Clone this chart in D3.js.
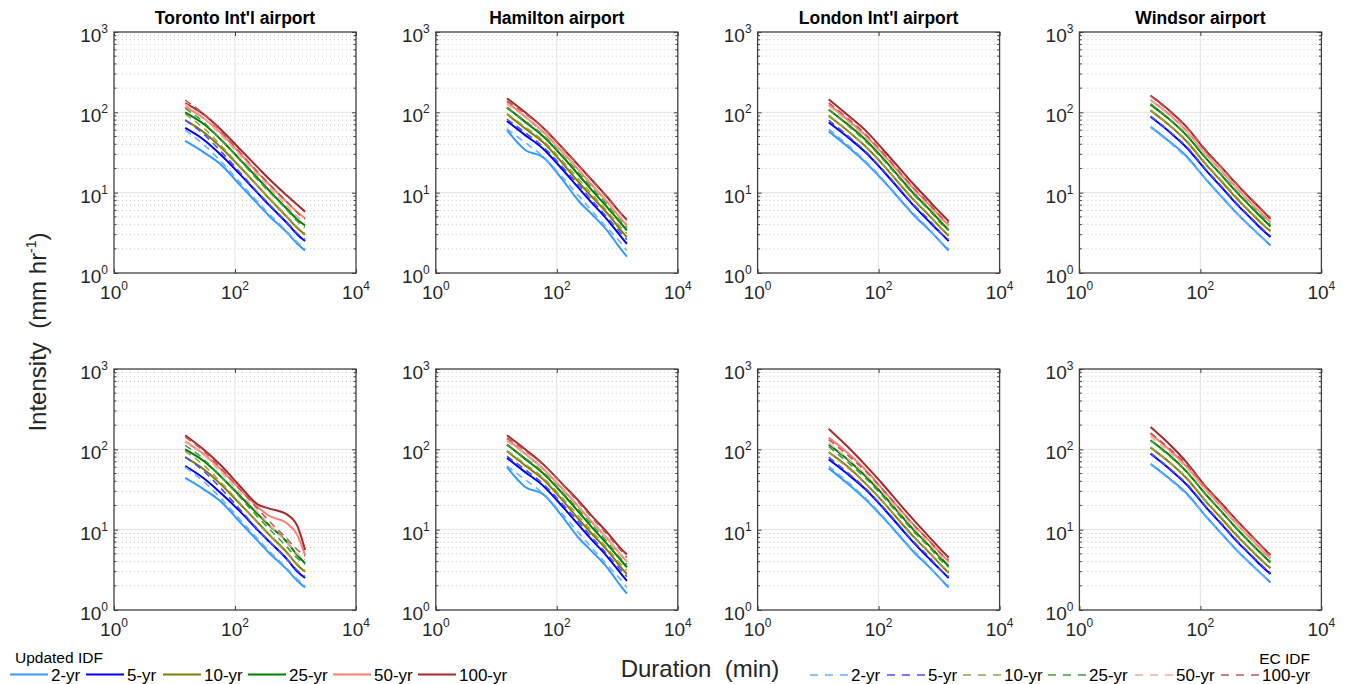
<!DOCTYPE html>
<html>
<head>
<meta charset="utf-8">
<script src="https://cdn.jsdelivr.net/npm/d3@7"></script>
<style>
body { margin: 0; background: #fff; }
svg { display: block; font-family: "Liberation Sans", Arial, Helvetica, sans-serif; }
text { white-space: pre; }
</style>
</head>
<body>
<svg id="chart" width="1355" height="684"></svg>
<script>
// durations (min) shared by every curve
var durations = [15, 30, 60, 120, 240, 360, 720, 1080, 1440];
var periods = ["2-yr", "5-yr", "10-yr", "25-yr", "50-yr", "100-yr"];
var stations = ["Toronto Int'l airport", "Hamilton airport", "London Int'l airport", "Windsor airport"];
var xTicks = [1, 100, 10000];
var yTicks = [1, 10, 100, 1000];

// EC IDF curves (dashed), one row per return period, same in both rows of panels
var ecToronto = [
  [60, 40, 24, 13.5, 7.6, 5.5, 3.3, 2.4, 2.0],
  [80, 54, 32, 18, 10, 7.3, 4.3, 3.1, 2.6],
  [95, 64, 38, 21.5, 12, 8.7, 5.1, 3.7, 3.1],
  [112, 76, 45, 25.5, 14.3, 10.4, 6.1, 4.4, 3.7],
  [127, 86, 51, 29, 16.3, 11.8, 6.9, 5.0, 4.2],
  [142, 96, 57, 32, 18, 13, 7.7, 5.6, 4.7]
];
var ecHamilton = [
  [62, 42, 28, 16, 8.8, 6.2, 3.5, 2.5, 1.9],
  [82, 56, 37, 21.5, 12, 8.4, 4.7, 3.3, 2.6],
  [96, 66, 44, 25.5, 14.2, 10, 5.6, 3.9, 3.1],
  [113, 78, 52, 30, 17, 12, 6.7, 4.6, 3.7],
  [126, 87, 58, 34, 19, 13.4, 7.5, 5.2, 4.1],
  [139, 96, 64, 37.5, 21, 14.8, 8.3, 5.8, 4.5]
];
var ecLondon = [
  [62, 40, 25, 14.5, 8, 5.7, 3.4, 2.4, 2.0],
  [80, 52, 33, 19, 10.5, 7.4, 4.4, 3.1, 2.6],
  [92, 60, 38, 22, 12.2, 8.6, 5.1, 3.6, 3.0],
  [108, 70, 44, 25.5, 14, 9.9, 5.8, 4.1, 3.4],
  [120, 78, 49, 28.5, 15.5, 11, 6.4, 4.6, 3.8],
  [132, 86, 54, 31, 17, 12, 7.0, 5.0, 4.2]
];
var ecWindsor = [
  [65, 43, 27, 15, 8.5, 6.1, 3.6, 2.7, 2.2],
  [90, 59, 37, 20, 11.3, 8, 4.7, 3.5, 2.9],
  [107, 70, 44, 23.5, 13.3, 9.5, 5.5, 4.1, 3.4],
  [128, 84, 52, 28, 15.8, 11.3, 6.6, 4.9, 4.0],
  [144, 94, 58, 31.5, 17.8, 12.7, 7.4, 5.5, 4.5],
  [160, 104, 64, 35, 19.6, 14, 8.2, 6.0, 4.9]
];

// Updated IDF curves (solid), top row
var updTorontoTop = [
  [44, 32, 22, 12.5, 7.2, 5.2, 3.2, 2.3, 1.9],
  [64, 46, 29, 17, 9.8, 7.1, 4.2, 3.0, 2.5],
  [80, 57, 36, 21, 12, 8.6, 5.0, 3.6, 3.0],
  [100, 72, 45, 26, 15, 10.8, 6.3, 4.6, 3.9],
  [118, 85, 54, 31, 17.5, 12.8, 7.6, 5.7, 4.8],
  [130, 95, 60, 35, 20.5, 15, 9.2, 7.0, 5.8]
];
var updHamiltonTop = [
  [60, 34, 27.5, 15, 7.6, 5.6, 3.2, 2.1, 1.6],
  [78, 52, 35, 20, 11, 7.8, 4.4, 3.0, 2.3],
  [95, 63, 42, 24, 13, 9.3, 5.3, 3.6, 2.8],
  [115, 76, 50, 29, 16, 11.2, 6.3, 4.4, 3.4],
  [135, 88, 57, 33, 18.5, 13, 7.3, 5.0, 3.9],
  [150, 100, 64, 37, 21, 15, 8.4, 5.8, 4.6]
];
var updLondonTop = [
  [58, 38, 24, 14, 7.8, 5.5, 3.3, 2.4, 1.9],
  [75, 50, 32, 18.5, 10.2, 7.2, 4.2, 3.1, 2.5],
  [90, 60, 38, 22, 12, 8.5, 5.0, 3.6, 2.9],
  [108, 72, 46, 26.5, 14.5, 10.2, 6.0, 4.3, 3.4],
  [125, 82, 52, 30, 16.5, 11.7, 6.8, 4.9, 3.9],
  [145, 94, 60, 34, 18.8, 13.3, 7.6, 5.5, 4.4]
];
var updWindsorTop = [
  [66, 44, 28, 15, 8.4, 6, 3.6, 2.7, 2.2],
  [88, 58, 36, 19.5, 11, 7.8, 4.6, 3.4, 2.8],
  [105, 70, 43, 23, 13, 9.2, 5.4, 4.0, 3.3],
  [125, 83, 51, 27.5, 15.5, 11, 6.4, 4.7, 3.8],
  [143, 95, 58, 31, 17.5, 12.4, 7.2, 5.3, 4.3],
  [162, 107, 65, 34, 19.5, 13.8, 8.0, 5.9, 4.7]
];

// Updated IDF curves (solid), bottom row
var updTorontoBottom = [
  [44, 32, 22, 12.5, 7.2, 5.2, 3.2, 2.3, 1.9],
  [62, 44, 28, 17, 9.8, 7.2, 4.3, 3.0, 2.5],
  [80, 57, 36, 21, 12.2, 8.8, 5.2, 3.6, 3.0],
  [100, 72, 45, 26.5, 15.5, 11.5, 7.0, 4.8, 3.8],
  [125, 88, 55, 32, 19, 15, 12, 8.5, 4.8],
  [150, 100, 62, 35, 20.5, 18.4, 15.5, 11, 5.6]
];
var updHamiltonBottom = [
  [60, 34, 27.5, 15, 7.6, 5.6, 3.2, 2.1, 1.6],
  [78, 52, 35, 20, 11, 7.8, 4.4, 3.0, 2.3],
  [95, 63, 42, 24, 13, 9.3, 5.3, 3.6, 2.8],
  [115, 76, 50, 29, 16, 11.2, 6.3, 4.4, 3.4],
  [135, 88, 57, 33, 18.5, 13, 7.4, 5.1, 4.0],
  [150, 100, 65, 38, 22, 15.5, 8.8, 6.1, 4.9]
];
var updLondonBottom = [
  [58, 38, 24, 14, 7.8, 5.5, 3.3, 2.4, 1.9],
  [75, 50, 32, 18.5, 10.2, 7.2, 4.2, 3.1, 2.5],
  [92, 62, 38, 22, 12, 8.5, 5.0, 3.6, 2.9],
  [115, 76, 47, 27, 14.8, 10.4, 6.1, 4.4, 3.5],
  [140, 92, 56, 31, 17, 12, 7.0, 5.0, 4.0],
  [180, 110, 64, 36, 19.5, 13.8, 7.8, 5.6, 4.5]
];
var updWindsorBottom = [
  [66, 44, 28, 15, 8.4, 6, 3.6, 2.7, 2.2],
  [88, 58, 36, 19.5, 11, 7.8, 4.6, 3.4, 2.8],
  [105, 70, 43, 23, 13, 9.2, 5.4, 4.0, 3.3],
  [130, 86, 52, 28, 15.8, 11.2, 6.5, 4.8, 3.9],
  [155, 100, 60, 32, 18, 12.8, 7.4, 5.4, 4.4],
  [190, 118, 68, 35, 20, 14.2, 8.2, 6.0, 4.8]
];

var updColors = ["#3399ff", "#0000ff", "#808000", "#008000", "#fa8072", "#a52a2a"];
var ecColors = ["#66b3ff", "#4d4dff", "#a0a040", "#40a040", "#f8a89e", "#c05a5a"];

var panels = [
  { title: stations[0], row: 0, col: 0, upd: updTorontoTop, ec: ecToronto },
  { title: stations[1], row: 0, col: 1, upd: updHamiltonTop, ec: ecHamilton },
  { title: stations[2], row: 0, col: 2, upd: updLondonTop, ec: ecLondon },
  { title: stations[3], row: 0, col: 3, upd: updWindsorTop, ec: ecWindsor },
  { title: null, row: 1, col: 0, upd: updTorontoBottom, ec: ecToronto },
  { title: null, row: 1, col: 1, upd: updHamiltonBottom, ec: ecHamilton },
  { title: null, row: 1, col: 2, upd: updLondonBottom, ec: ecLondon },
  { title: null, row: 1, col: 3, upd: updWindsorBottom, ec: ecWindsor }
];

var svg = d3.select("#chart");
var lefts = [114, 435.8, 757.6, 1079.4];
var tops = [32, 369];
var pw = 242, ph = 241;

var x = d3.scaleLog().domain([1, 10000]).range([0, pw]);
var y = d3.scaleLog().domain([1, 1000]).range([ph, 0]);

var minorY = [];
[1, 10, 100].forEach(function (b) {
  for (var k = 2; k <= 9; k++) { minorY.push(b * k); }
});

var line = d3.line()
  .x(function (d) { return x(d[0]); })
  .y(function (d) { return y(d[1]); })
  .curve(d3.curveMonotoneX);

var supLabel = function (sel, exp) {
  sel.append("tspan").text("10");
  sel.append("tspan").attr("font-size", 12).attr("dy", -9).text(exp);
};

panels.forEach(function (p) {
  var g = svg.append("g")
    .attr("transform", "translate(" + lefts[p.col] + "," + tops[p.row] + ")");

  // minor grid (dotted)
  g.selectAll(".mgrid")
    .data(minorY)
    .enter()
    .append("line")
    .attr("x1", 0).attr("x2", pw)
    .attr("y1", function (d) { return y(d); })
    .attr("y2", function (d) { return y(d); })
    .attr("stroke", "#c8c8c8")
    .attr("stroke-width", 1)
    .attr("stroke-dasharray", "1,3");

  // major grid
  g.selectAll(".hgrid")
    .data([10, 100])
    .enter()
    .append("line")
    .attr("x1", 0).attr("x2", pw)
    .attr("y1", function (d) { return y(d); })
    .attr("y2", function (d) { return y(d); })
    .attr("stroke", "#e3e3e3")
    .attr("stroke-width", 1);
  g.append("line")
    .attr("x1", x(100)).attr("x2", x(100))
    .attr("y1", 0).attr("y2", ph)
    .attr("stroke", "#e3e3e3")
    .attr("stroke-width", 1);

  // curves: updated solid, EC dashed
  p.upd.forEach(function (vals, i) {
    var pts = durations.map(function (d, j) { return [d, vals[j]]; });
    g.append("path")
      .attr("d", line(pts))
      .attr("fill", "none")
      .attr("stroke", updColors[i])
      .attr("stroke-width", 2);
  });
  p.ec.forEach(function (vals, i) {
    var pts = durations.map(function (d, j) { return [d, vals[j]]; });
    g.append("path")
      .attr("d", line(pts))
      .attr("fill", "none")
      .attr("stroke", ecColors[i])
      .attr("stroke-width", 1.6)
      .attr("stroke-dasharray", "7,5");
  });

  // minor ticks on y edges
  g.selectAll(".mtickL")
    .data(minorY)
    .enter()
    .append("line")
    .attr("x1", 0).attr("x2", 2.5)
    .attr("y1", function (d) { return y(d); })
    .attr("y2", function (d) { return y(d); })
    .attr("stroke", "#404040");
  g.selectAll(".mtickR")
    .data(minorY)
    .enter()
    .append("line")
    .attr("x1", pw - 2.5).attr("x2", pw)
    .attr("y1", function (d) { return y(d); })
    .attr("y2", function (d) { return y(d); })
    .attr("stroke", "#404040");

  // axes
  var yAxis = d3.axisLeft(y).tickValues(yTicks).tickSize(-4).tickFormat("");
  var xAxis = d3.axisBottom(x).tickValues(xTicks).tickSize(-4).tickFormat("");
  g.append("g").call(yAxis);
  g.append("g").attr("transform", "translate(0," + ph + ")").call(xAxis);
  g.append("g").call(d3.axisRight(y).tickValues(yTicks).tickSize(-4).tickFormat(""))
    .attr("transform", "translate(" + pw + ",0)");
  g.append("g").call(d3.axisTop(x).tickValues(xTicks).tickSize(-4).tickFormat(""));
  g.selectAll(".domain").remove();
  g.selectAll(".tick line").attr("stroke", "#404040");

  g.append("rect")
    .attr("width", pw).attr("height", ph)
    .attr("fill", "none")
    .attr("stroke", "#404040")
    .attr("stroke-width", 1.3);

  // tick labels
  yTicks.forEach(function (v) {
    g.append("text")
      .attr("x", -6)
      .attr("y", y(v) + 10)
      .attr("text-anchor", "end")
      .attr("font-size", 19)
      .attr("fill", "#262626")
      .call(supLabel, Math.round(Math.log10(v)));
  });
  xTicks.forEach(function (v) {
    g.append("text")
      .attr("x", x(v))
      .attr("y", ph + 26)
      .attr("text-anchor", "middle")
      .attr("font-size", 19)
      .attr("fill", "#262626")
      .call(supLabel, Math.round(Math.log10(v)));
  });

  if (p.title) {
    g.append("text")
      .attr("x", pw / 2)
      .attr("y", -8)
      .attr("text-anchor", "middle")
      .attr("font-size", 17.5)
      .attr("font-weight", "bold")
      .attr("fill", "#000")
      .text(p.title);
  }
});

// axis titles
svg.append("text")
  .attr("transform", "translate(46,332) rotate(-90)")
  .attr("text-anchor", "middle")
  .attr("font-size", 24)
  .attr("fill", "#262626")
  .call(function (t) {
    t.append("tspan").text("Intensity  (mm hr");
    t.append("tspan").attr("font-size", 14).attr("dy", -10).text("-1");
    t.append("tspan").attr("dy", 10).text(")");
  });

svg.append("text")
  .attr("x", 700)
  .attr("y", 677)
  .attr("text-anchor", "middle")
  .attr("font-size", 24)
  .attr("fill", "#262626")
  .text("Duration  (min)");

// legends
var legLeftX = [10, 86, 163, 248, 333, 418];
var legRightX = [810, 887, 963, 1048, 1135, 1221];

svg.append("text").attr("x", 15).attr("y", 663).attr("font-size", 15.5).attr("fill", "#000").text("Updated IDF");
svg.append("text").attr("x", 1310).attr("y", 664).attr("text-anchor", "end").attr("font-size", 15.5).attr("fill", "#000").text("EC IDF");

var legL = svg.selectAll(".legL")
  .data(periods)
  .enter()
  .append("g")
  .attr("transform", function (d, i) { return "translate(" + legLeftX[i] + ",674.5)"; });
legL.append("line")
  .attr("x1", 0).attr("x2", 38)
  .attr("stroke", function (d, i) { return updColors[i]; })
  .attr("stroke-width", 2);
legL.append("text")
  .attr("x", 41).attr("y", 6)
  .attr("font-size", 17)
  .attr("fill", "#000")
  .text(function (d) { return d; });

var legR = svg.selectAll(".legR")
  .data(periods)
  .enter()
  .append("g")
  .attr("transform", function (d, i) { return "translate(" + legRightX[i] + ",675)"; });
legR.append("line")
  .attr("x1", 0).attr("x2", 38)
  .attr("stroke", function (d, i) { return ecColors[i]; })
  .attr("stroke-width", 1.6)
  .attr("stroke-dasharray", "8,7");
legR.append("text")
  .attr("x", 41).attr("y", 5.5)
  .attr("font-size", 17)
  .attr("fill", "#000")
  .text(function (d) { return d; });
</script>
</body>
</html>
